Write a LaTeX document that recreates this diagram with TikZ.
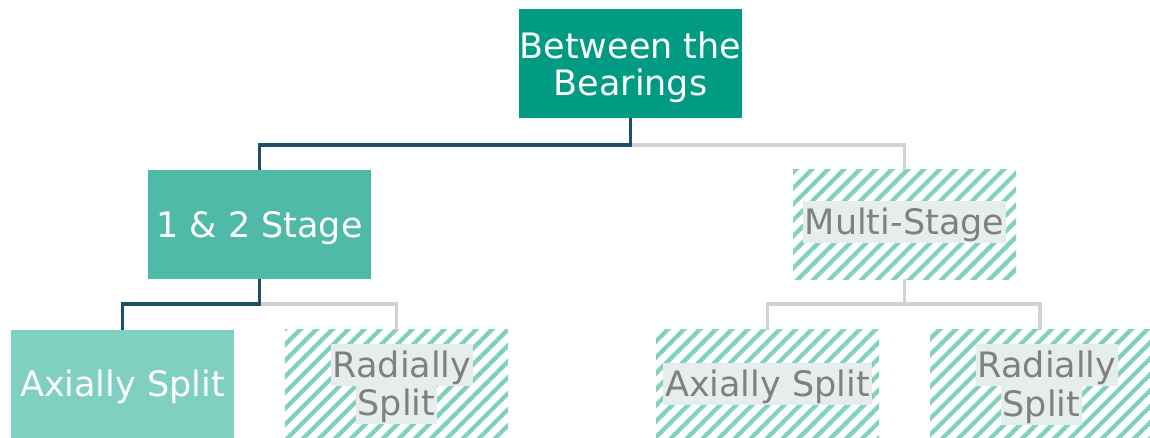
\documentclass[tikz,border=0pt]{standalone}
\usepackage{fontspec}
\setmainfont{DejaVu Sans}
\usetikzlibrary{patterns.meta}
\definecolor{topc}{RGB}{0,155,130}
\definecolor{midc}{RGB}{78,186,167}
\definecolor{lowc}{RGB}{128,208,193}
\definecolor{hatchc}{RGB}{127,209,192}
\definecolor{darkln}{RGB}{28,80,104}
\definecolor{greyln}{RGB}{210,210,210}
\definecolor{lblbg}{RGB}{230,238,235}
\definecolor{lbltx}{RGB}{128,128,128}
\tikzset{
  box/.style={minimum width=223pt, minimum height=109pt, inner sep=0pt, outer sep=0pt},
  hatchbox/.style={box, pattern={Lines[angle=45, distance=11.3pt, line width=4.3pt]}, pattern color=hatchc},
  wtxt/.style={inner sep=0pt, text=white, align=center, font=\fontsize{35}{37}\selectfont},
  stxt/.style={wtxt, text height=30.8pt, text depth=5.2pt},
  lbl/.style={fill=lblbg, text=lbltx, inner xsep=2pt, inner ysep=3pt, text height=30.8pt, text depth=5.2pt, font=\fontsize{35}{37}\selectfont},
  darkc/.style={draw=darkln, line width=3.3pt},
  greyc/.style={draw=greyln, line width=3.3pt},
}
\begin{document}
\begin{tikzpicture}[x=1pt,y=-1pt]
\useasboundingbox (0,0) rectangle (1150,438);
% boxes
\node[box, fill=topc] (top) at (630.5,64) {};
\node[box, fill=midc] (s12) at (259.5,224.5) {};
\node[hatchbox] (ms) at (904.5,224.5) {};
\node[box, fill=lowc] (ax1) at (122.5,384) {};
\node[hatchbox] (rad1) at (396.5,384) {};
\node[hatchbox] (ax2) at (767.5,384) {};
\node[hatchbox, minimum width=220pt] (rad2) at (1040,384) {};
% white texts
\node[wtxt] (topt) at (630.5,67) {Between the\\Bearings};
\node[stxt] (s12t) at (259.5,225) {1 \& 2 Stage};
\node[stxt] (ax1t) at (122.5,384) {Axially Split};
% labels on hatched boxes
\node[lbl] (msl) at (904.5,222) {Multi-Stage};
\node[lbl] (rad1a) at (402,365) {Radially\hspace{0.32em}};
\node[lbl] (rad1b) at (396.5,403) {Split};
\node[lbl] (ax2l) at (767.5,383.5) {Axially Split};
\node[lbl] (rad2a) at (1047,365) {Radially\hspace{0.32em}};
\node[lbl] (rad2b) at (1041.5,404) {Split};
% junctions
\coordinate (j1) at (630.5,145);
\coordinate (j2) at (259.5,304);
\coordinate (j3) at (904.5,304);
% connectors
\draw[greyc] (j1) -| (ms.north);
\draw[darkc] (top.south) -- (j1) -| (s12.north);
\draw[greyc] (j2) -| (rad1.north);
\draw[darkc] (s12.south) -- (j2) -| (ax1.north);
\draw[greyc] (ms.south) -- (j3) -| (ax2.north);
\draw[greyc] (j3) -| (rad2.north);
\end{tikzpicture}
\end{document}
